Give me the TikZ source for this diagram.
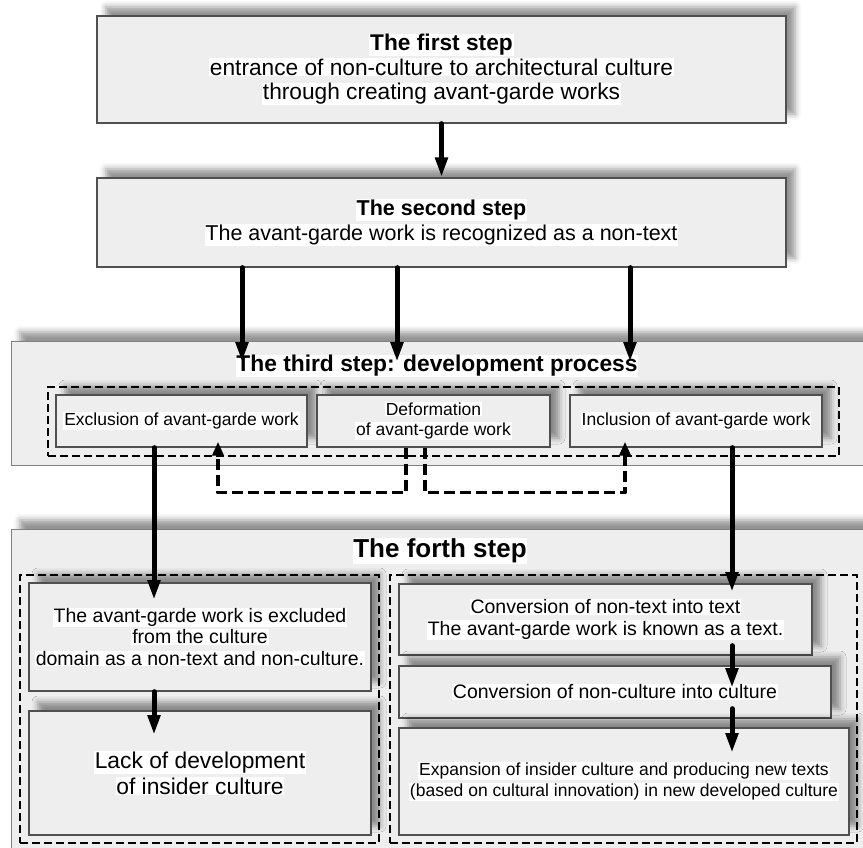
\documentclass[tikz,border=0pt]{standalone}
\usepackage{fontspec}
\setmainfont{Liberation Sans}
\usepackage{xcolor}
\usepackage{tikz}
\usetikzlibrary{shapes,arrows.meta,positioning,fit,backgrounds,calc,shadows.blur}

\definecolor{boxgray}{HTML}{EEEEEE}
\definecolor{edgegray}{HTML}{505050}
\newcommand{\wline}[1]{{\setlength{\fboxsep}{0.8pt}\colorbox{white}{#1}}}
\newcommand{\topfont}{\fontsize{22.7}{24.5}\selectfont\lineskiplimit=-30pt}
\newcommand{\stepfont}{\fontsize{21.5}{24.5}\selectfont\lineskiplimit=-30pt}
\newcommand{\midfont}{\fontsize{19.5}{21.5}\selectfont\lineskiplimit=-30pt}
\newcommand{\subfont}{\fontsize{17.5}{20.5}\selectfont\lineskiplimit=-30pt}
\newcommand{\bigfont}{\fontsize{22.8}{26}\selectfont\lineskiplimit=-30pt}

\begin{document}
\begin{tikzpicture}[x=1pt, y=-1pt,
    stepbox/.style={rectangle, draw=edgegray, line width=1.3pt, fill=boxgray, align=center, inner sep=0pt,
      blur shadow={shadow xshift=9pt, shadow yshift=9pt, shadow blur radius=6pt, shadow opacity=42}},
    areabox/.style={stepbox, draw=gray, line width=1pt},
    framebox/.style={rectangle, draw, line width=2.5pt, dash pattern=on 8pt off 4pt, inner sep=0pt},
    flow/.style={line width=5pt, line cap=round, -{Triangle[length=20pt,width=12pt]}},
    backflow/.style={line width=3.6pt, line join=round, dash pattern=on 11pt off 5pt, -{Triangle[length=14pt,width=11pt]}}]
  \useasboundingbox (0,0) rectangle (863,847);
  \node[stepbox, minimum width=689pt, minimum height=107pt, font=\topfont] (first) at (441.5,69.5)
    {\wline{\bfseries The first step}\\ \wline{entrance of non-culture to architectural culture}\\ \wline{through creating avant-garde works}};
  \node[stepbox, minimum width=689pt, minimum height=89pt, font=\stepfont] (second) at (441.5,222.5)
    {\wline{\bfseries The second step}\\ \wline{The avant-garde work is recognized as a non-text}};

  \node[areabox, minimum width=879pt, minimum height=124pt] (third) at (450.5,403) {};
  \node[inner sep=0pt, font=\bigfont\bfseries] (thirdtitle) at (437,366) {\wline{The third step: development process}};
  \node[stepbox, minimum width=251pt, minimum height=52pt, font=\subfont] (excl) at (181.5,421) {\wline{Exclusion of avant-garde work}};
  \node[stepbox, minimum width=233pt, minimum height=52pt, font=\subfont] (deform) at (433.5,421) {\wline{Deformation}\\ \wline{of avant-garde work}};
  \node[stepbox, minimum width=252pt, minimum height=52pt, font=\subfont] (incl) at (696,421) {\wline{Inclusion of avant-garde work}};
  \node[framebox, minimum width=791pt, minimum height=69pt] (devframe) at (443.5,421.5) {};

  \node[areabox, minimum width=879pt, minimum height=341pt] (fourth) at (450.5,699.5) {};
  \node[inner sep=0pt, font=\fontsize{26}{30}\selectfont\bfseries] (fourthtitle) at (440,551) {\wline{The forth step}};
  \node[stepbox, minimum width=342pt, minimum height=108pt, font=\midfont] (exA) at (200,637)
    {\wline{The avant-garde work is excluded}\\ \wline{from the culture}\\ \wline{domain as a non-text and non-culture.}};
  \node[stepbox, minimum width=342pt, minimum height=124pt, font=\bigfont] (exB) at (200,773)
    {\wline{Lack of development}\\ \wline{of insider culture}};
  \node[stepbox, minimum width=413pt, minimum height=71pt, font=\midfont] (convt) at (605.5,619.5)
    {\wline{Conversion of non-text into text}\\ \wline{The avant-garde work is known as a text.}};
  \node[stepbox, minimum width=432pt, minimum height=52pt, font=\midfont] (convc) at (615,692)
    {\wline{Conversion of non-culture into culture}};
  \node[stepbox, minimum width=450pt, minimum height=107pt, font=\subfont] (expand) at (624,781.5)
    {\wline{Expansion of insider culture and producing new texts}\\ \wline{(based on cultural innovation) in new developed culture}};
  \node[framebox, minimum width=359pt, minimum height=268pt] (exframe) at (199.5,709) {};
  \node[framebox, minimum width=467pt, minimum height=268pt] (inframe) at (623.5,709) {};

  \coordinate (s1) at (242,362);
  \coordinate (s2) at (397,362);
  \coordinate (s3) at (630,362);
  \coordinate (tA) at (154,600);
  \coordinate (tB) at (154,735);
  \coordinate (tC) at (732,592);
  \coordinate (tD) at (732,688);
  \coordinate (tE) at (732,753);

  \draw[flow] (first) -- (second);
  \foreach \s in {s1,s2,s3}
    \draw[flow] (second.south -| \s) -- (\s);
  \draw[backflow] ([xshift=-27.5pt]deform.south) -- ++(0,45) -| ([xshift=36.5pt,yshift=6pt]excl.south);
  \draw[backflow] ([xshift=-8.5pt]deform.south) -- ++(0,45) -| ([xshift=-71pt,yshift=6pt]incl.south);
  \draw[flow] (excl.south -| tA) -- (tA);
  \draw[flow] (incl.south -| tC) -- (tC);
  \draw[flow] (exA.south -| tB) -- (tB);
  \draw[flow] ($(convt.south -| tD)+(0,-10)$) -- (tD);
  \draw[flow] ($(convc.south -| tE)+(0,-10)$) -- (tE);
\end{tikzpicture}
\end{document}
